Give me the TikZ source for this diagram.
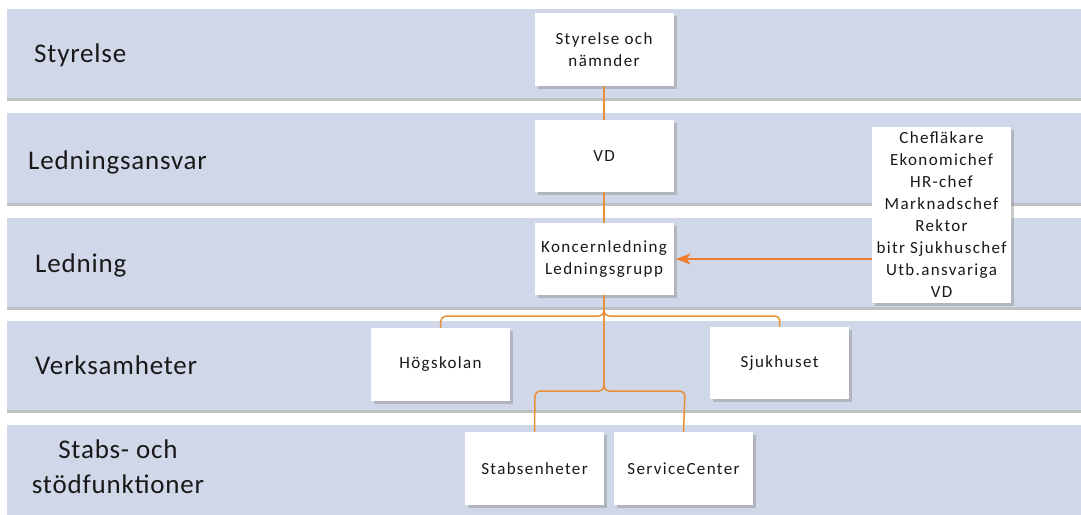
\documentclass[tikz,border=0pt]{standalone}
\usepackage{fontspec}
\setmainfont{Carlito}
\newfontfamily\bandfont{Carlito}[LetterSpace=3]
\newfontfamily\boxfont{Carlito}[LetterSpace=8]
\usetikzlibrary{shadows,arrows.meta}
\definecolor{bandcol}{RGB}{208,215,232}
\definecolor{linecol}{RGB}{230,145,56}
\definecolor{arrowcol}{RGB}{237,125,49}
\definecolor{txtcol}{RGB}{25,25,25}
\tikzset{
  band/.style={fill=bandcol, draw=none, drop shadow={shadow xshift=0pt, shadow yshift=-2.5pt, fill=black!35, opacity=0.7}},
  bandlabel/.style={font=\bandfont\fontsize{27}{35}\selectfont, text=txtcol, inner sep=0pt},
  orgbox/.style={fill=white, draw=none, minimum width=139pt, inner sep=0pt, align=center,
    font=\boxfont\fontsize{17}{22}\selectfont, text=txtcol,
    drop shadow={shadow xshift=3pt, shadow yshift=-3pt, fill=black!45, opacity=0.45}},
  conn/.style={draw=linecol, line width=1.5pt, rounded corners=5pt},
  feed/.style={draw=arrowcol, line width=1.6pt, -{Stealth[length=15pt,width=11pt,inset=4pt]}}
}
\begin{document}
\begin{tikzpicture}[x=1pt,y=-1pt]
\useasboundingbox (0,0) rectangle (1081,514);
% bands
\path[band] (7,9) rectangle (1090,98);
\path[band] (7,113) rectangle (1090,203);
\path[band] (7,218) rectangle (1090,307);
\path[band] (7,321) rectangle (1090,410);
\path[band] (7,425) rectangle (1090,530);
% band labels
\node[bandlabel, anchor=base west] (l1) at (34,62) {Styrelse};
\node[bandlabel, anchor=base west] (l2) at (28,169) {Ledningsansvar};
\node[bandlabel, anchor=base west] (l3) at (35,272) {Ledning};
\node[bandlabel, anchor=base west] (l4) at (35,374) {Verksamheter};
\node[bandlabel, align=center, anchor=base] (l5) at (118,493) {Stabs- och\\stödfunktioner};
% boxes
\node[orgbox, minimum height=73pt] (sty) at (604,49.5) {Styrelse och\\nämnder};
\node[orgbox, minimum height=72pt] (vd) at (604,156) {VD};
\node[orgbox, minimum height=72pt] (kl) at (604,259) {Koncernledning\\Ledningsgrupp};
\node[orgbox, minimum height=176pt] (chef) at (941.5,215) {Chefläkare\\Ekonomichef\\HR-chef\\Marknadschef\\Rektor\\bitr Sjukhuschef\\Utb.ansvariga\\VD};
\node[orgbox, minimum height=73pt] (hog) at (440.5,364.5) {Högskolan};
\node[orgbox, minimum height=72pt] (sjuk) at (779.5,363) {Sjukhuset};
\node[orgbox, minimum height=73pt] (stabs) at (534.5,468.5) {Stabsenheter};
\node[orgbox, minimum height=73pt] (svc) at (683.5,468.5) {ServiceCenter};
% connectors
\draw[conn] (sty.south) -- (vd.north);
\draw[conn] (vd.south) -- (kl.north);
\draw[conn] (kl.south) |- (441,316) -- (hog.north);
\draw[conn] (kl.south) |- (780,316) -- (sjuk.north);
\draw[conn] (kl.south) |- (535,391) -- (stabs.north);
\draw[conn] (kl.south) |- (685,391) -- (svc.north);
\draw[feed] (chef.west |- kl.east) -- ([xshift=2pt]kl.east);
\end{tikzpicture}
\end{document}
